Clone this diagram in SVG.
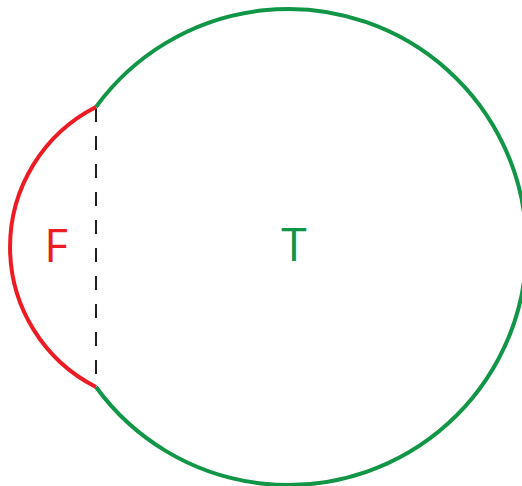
<svg xmlns="http://www.w3.org/2000/svg" width="522" height="486" viewBox="0 0 522 486">
<style>
.t{font-family:"Open Sans","Liberation Sans",sans-serif;font-size:46px;text-anchor:middle}
</style>
<rect width="522" height="486" fill="#fff"/>
<g id="connectors">
<line x1="96" y1="108" x2="96" y2="386" stroke="#231f20" stroke-width="2" stroke-dasharray="14 14"/>
</g>
<g id="T">
<path d="M96,107 A238,238 0 1 1 96,387" fill="none" stroke="#119547" stroke-width="4"/>
<text class="t" x="294" y="261" fill="#119547">T</text>
</g>
<g id="F">
<path d="M96,107 A157,157 0 0 0 96,387" fill="none" stroke="#ed1c24" stroke-width="4"/>
<text class="t" x="56" y="262" fill="#ed1c24">F</text>
</g>
</svg>
